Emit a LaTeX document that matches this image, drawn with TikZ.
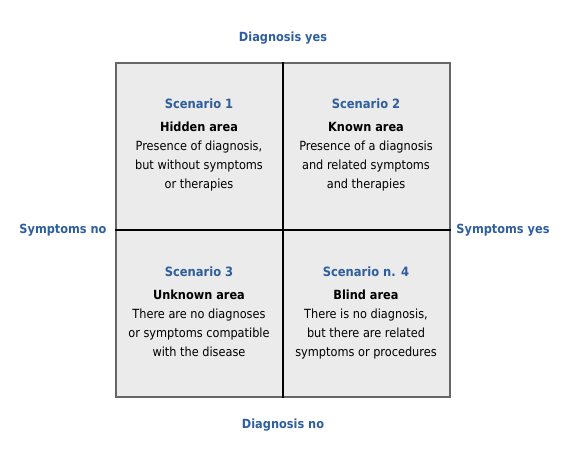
\documentclass[tikz,border=0pt]{standalone}
\usepackage{fontspec}
\setmainfont{DejaVu Sans Condensed}
\usetikzlibrary{positioning}
\definecolor{axisblue}{HTML}{2E5E9E}
\definecolor{panelgray}{HTML}{EBEBEB}
\definecolor{framegray}{HTML}{666666}
\tikzset{
  axis/.style={text=axisblue, font=\fontsize{12.6}{14}\selectfont\bfseries},
  title/.style={text=axisblue, font=\fontsize{12.8}{14}\selectfont\bfseries, inner sep=0pt},
  body/.style={align=center, font=\fontsize{12.6}{19}\selectfont, inner sep=0pt},
  panel/.style={draw=framegray, line width=1.2pt, fill=panelgray, minimum width=334pt, minimum height=334pt},
  divider/.style={line width=1.8pt, black}
}
\begin{document}
\begin{tikzpicture}[x=1pt, y=-1pt]
\useasboundingbox (0,0) rectangle (565,461);
			\node[panel] (grid) at (283,230) {};
			
			\draw[divider] (grid.north) -- (grid.south);
			\draw[divider] (grid.west) -- (grid.east);
			
			% axis labels
			\node[axis] (dyes) at (283,38) {Diagnosis yes};
			\node[axis] (dno) at (283,425) {Diagnosis no};
			\node[axis] (sno) at (63,230) {Symptoms no};
			\node[axis] (syes) at (503,230) {Symptoms yes};
			
			% quadrants
			\node[title] (s1) at (199,104) {Scenario 1};
			\node[body, below = 13pt of s1] (t1) {\textbf{Hidden area}\\Presence of diagnosis,\\but without symptoms\\or therapies};
			
			\node[title] (s2) at (366,104) {Scenario 2};
			\node[body, below = 13pt of s2] (t2) {\textbf{Known area}\\Presence of a diagnosis\\and related symptoms\\and therapies};
			
			\node[title] (s3) at (199,272) {Scenario 3};
			\node[body, below = 13pt of s3] (t3) {\textbf{Unknown area}\\There are no diagnoses\\or symptoms compatible\\with the disease};
			
			\node[title] (s4) at (366,272) {Scenario n. 4};
			\node[body, below = 13pt of s4] (t4) {\textbf{Blind area}\\There is no diagnosis,\\but there are related\\symptoms or procedures};
		\end{tikzpicture}
\end{document}
